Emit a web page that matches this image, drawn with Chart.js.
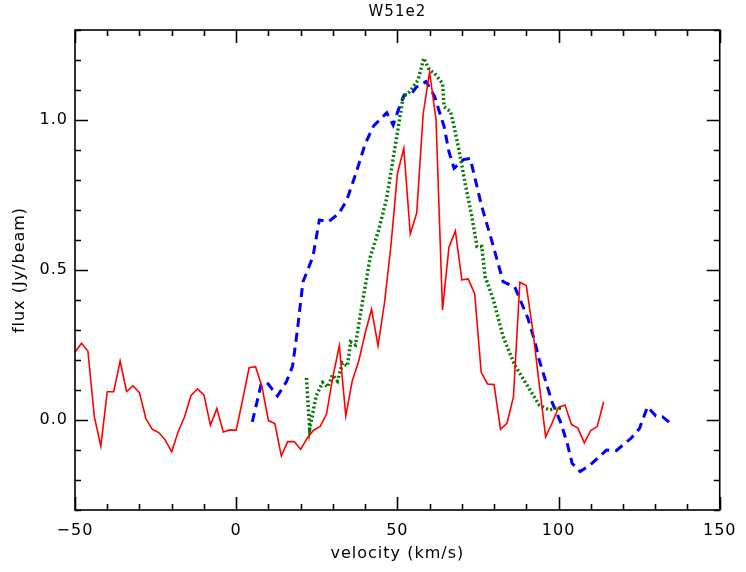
<!DOCTYPE html>
<html>
<head>
<meta charset="utf-8">
<script src="https://cdn.jsdelivr.net/npm/chart.js@4"></script>
<style>
  body { margin: 0; background: #fff; }
</style>
</head>
<body>
<canvas id="myChart" width="746" height="572"></canvas>
<script>
// red spectrum (solid)
var redVel = [-50, -48, -46, -44, -42, -40, -38, -36, -34, -32, -30, -28, -26, -24, -22, -20, -18, -16, -14, -12, -10, -8, -6, -4, -2,
  0, 2, 4, 6, 8, 10, 12, 14, 16, 18, 20, 22, 24, 26, 28, 30, 32, 34, 36, 38, 40, 42, 44, 46, 48,
  50, 52, 54, 56, 58, 60, 62, 64, 66, 68, 70, 72, 74, 76, 78, 80, 82, 84, 86, 88, 90, 92, 94, 96, 98,
  100, 102, 104, 106, 108, 110, 112, 114];
var redFlux = [0.226, 0.256, 0.23, 0.011, -0.087, 0.094, 0.094, 0.196, 0.095, 0.114, 0.091, 0.004, -0.031, -0.042, -0.067, -0.106, -0.039, 0.011, 0.082, 0.104, 0.084, -0.017, 0.038, -0.040, -0.033,
  -0.034, 0.067, 0.174, 0.178, 0.111, -0.002, -0.012, -0.12, -0.072, -0.072, -0.098, -0.061, -0.034, -0.022, 0.019, 0.144, 0.248, 0.014, 0.13, 0.196, 0.289, 0.369, 0.247, 0.39, 0.58,
  0.82, 0.906, 0.62, 0.69, 1.02, 1.16, 1.0, 0.367, 0.576, 0.63, 0.467, 0.47, 0.42, 0.159, 0.12, 0.118, -0.031, -0.011, 0.076, 0.459, 0.448, 0.3, 0.12, -0.056, -0.01,
  0.042, 0.05, -0.015, -0.027, -0.076, -0.035, -0.022, 0.061];

// blue spectrum (dashed)
var blueVel = [5.0, 7.7, 9.5, 12.8, 15.6, 17.5, 19.0, 20.7, 23.8, 25.8, 28.7, 31.9, 34.3, 37.0, 40.0, 42.6, 46.7, 48.7, 50.2, 52.1,
  54.5, 55.8, 58.9, 61.5, 64.5, 66.0, 67.6, 70.5, 72.6, 76.2, 79.8, 82.8, 86.4, 90.5, 92.5, 94.0, 98.1, 100.6, 102.7, 104.2,
  106.7, 109.8, 114.9, 117.9, 122.5, 125.1, 127.6, 130.2, 132.2, 134.7];
var blueFlux = [-0.006, 0.117, 0.126, 0.08, 0.128, 0.18, 0.3, 0.46, 0.544, 0.667, 0.661, 0.689, 0.733, 0.817, 0.92, 0.98, 1.024, 0.983, 1.031, 1.083,
  1.089, 1.109, 1.128, 1.08, 0.978, 0.894, 0.839, 0.868, 0.872, 0.711, 0.578, 0.461, 0.444, 0.339, 0.267, 0.2, 0.056, -0.006, -0.078, -0.144,
  -0.172, -0.15, -0.1, -0.102, -0.061, -0.028, 0.044, 0.013, 0.011, -0.011];

// green spectrum (dotted)
var greenVel = [21.8, 22.8, 24.8, 26.8, 28.4, 29.9, 31.4, 33.0, 34.5, 35.5, 37.0, 38.5, 41.6, 44.2, 46.7, 49.8, 51.8, 53.8, 56.4, 58.2,
  59.9, 61.5, 64.0, 64.5, 66.5, 67.6, 69.1, 71.1, 73.1, 74.7, 76.2, 77.2, 79.8, 82.8, 84.9, 86.4, 89.9, 94.0, 97.1, 99.1, 101.1];
var greenFlux = [0.14, -0.03, 0.08, 0.125, 0.11, 0.15, 0.13, 0.19, 0.18, 0.26, 0.25, 0.35, 0.544, 0.633, 0.74, 0.944, 1.078, 1.094, 1.133, 1.206,
  1.167, 1.156, 1.122, 1.044, 1.028, 0.978, 0.9, 0.785, 0.678, 0.578, 0.578, 0.478, 0.4, 0.278, 0.222, 0.183, 0.122, 0.05, 0.033, 0.039, 0.039];

var xTickValues = [-50, 0, 50, 100, 150];
var yTickValues = [0.0, 0.5, 1.0];

function pairs(xs, ys) {
  return xs.map(function (v, i) { return {x: v, y: ys[i]}; });
}

var fontFam = '"DejaVu Sans", sans-serif';

// wider text spacing, like the IDL vector font
var spacing = {
  id: 'spacing',
  beforeDraw: function (chart) { chart.ctx.letterSpacing = '1px'; }
};

// box with inward major/minor ticks on all four sides
var boxTicks = {
  id: 'boxTicks',
  afterDatasetsDraw: function (chart) {
    var ctx = chart.ctx, a = chart.chartArea;
    var xs = chart.scales.x, ys = chart.scales.y;
    ctx.save();
    ctx.strokeStyle = '#000';
    ctx.lineWidth = 1.6;
    ctx.strokeRect(a.left, a.top, a.right - a.left, a.bottom - a.top);
    ctx.beginPath();
    for (var v = -50; v <= 150; v += 10) {
      var px = Math.round(xs.getPixelForValue(v)) + 0.5;
      var len = (v % 50 === 0) ? 13 : 6;
      ctx.moveTo(px, a.bottom); ctx.lineTo(px, a.bottom - len);
      ctx.moveTo(px, a.top); ctx.lineTo(px, a.top + len);
    }
    for (var k = -3; k <= 13; k++) {
      var py = Math.round(ys.getPixelForValue(k / 10)) + 0.5;
      var l2 = (k % 5 === 0) ? 13 : 6;
      ctx.moveTo(a.left, py); ctx.lineTo(a.left + l2, py);
      ctx.moveTo(a.right, py); ctx.lineTo(a.right - l2, py);
    }
    ctx.stroke();
    ctx.restore();
  }
};

var ctx = document.getElementById('myChart').getContext('2d');
var chart = new Chart(ctx, {
  type: 'line',
  data: {
    datasets: [{
      label: 'red',
      data: pairs(redVel, redFlux),
      borderColor: 'rgb(255,0,0)',
      borderWidth: 1.6,
      pointRadius: 0,
      order: 0
    },
    {
      label: 'green',
      data: pairs(greenVel, greenFlux),
      borderColor: 'rgb(0,120,0)',
      borderWidth: 3.5,
      borderDash: [2, 2.5],
      pointRadius: 0,
      order: 1
    },
    {
      label: 'blue',
      data: pairs(blueVel, blueFlux),
      borderColor: 'rgb(0,0,255)',
      borderWidth: 3,
      borderDash: [9, 6],
      pointRadius: 0,
      order: 2
    }]
  },
  options: {
    responsive: false,
    animation: false,
    layout: { padding: { left: 0, right: 18, top: 0, bottom: 0 } },
    plugins: {
      legend: { display: false },
      tooltip: { enabled: false }
    },
    scales: {
      // top axis only carries the plot title, centred over the plot box
      xTop: {
        type: 'linear',
        position: 'top',
        min: -50,
        max: 150,
        grid: { display: false, drawTicks: false },
        border: { display: false },
        ticks: { display: false },
        afterFit: function (s) { s.height = 30; },
        title: {
          display: true,
          text: 'W51e2',
          color: '#000',
          font: { family: fontFam, size: 15, lineHeight: 1.2 },
          padding: { top: 3, bottom: 0 }
        }
      },
      x: {
        type: 'linear',
        min: -50,
        max: 150,
        grid: { display: false, drawTicks: false },
        border: { display: false },
        afterBuildTicks: function (s) { s.ticks = xTickValues.map(function (v) { return {value: v}; }); },
        afterFit: function (s) { s.height = 62; },
        ticks: {
          color: '#000',
          padding: 11,
          maxRotation: 0,
          font: { family: fontFam, size: 16 },
          callback: function (v) { return v < 0 ? '\u2212' + Math.abs(v) : String(v); }
        },
        title: {
          display: true,
          text: 'velocity (km/s)',
          color: '#000',
          font: { family: fontFam, size: 16, lineHeight: 1.2 },
          padding: { top: 0, bottom: 9 }
        }
      },
      y: {
        type: 'linear',
        min: -0.3,
        max: 1.3,
        grid: { display: false, drawTicks: false },
        border: { display: false },
        afterBuildTicks: function (s) { s.ticks = yTickValues.map(function (v) { return {value: v}; }); },
        afterFit: function (s) { s.width = 75; },
        ticks: {
          color: '#000',
          padding: 7,
          font: { family: fontFam, size: 16 },
          callback: function (v) { return v.toFixed(1); }
        },
        title: {
          display: true,
          text: 'flux (Jy/beam)',
          color: '#000',
          font: { family: fontFam, size: 16, lineHeight: 1.2 },
          padding: { top: 10, bottom: 0 }
        }
      }
    }
  },
  plugins: [spacing, boxTicks]
});
</script>
</body>
</html>
